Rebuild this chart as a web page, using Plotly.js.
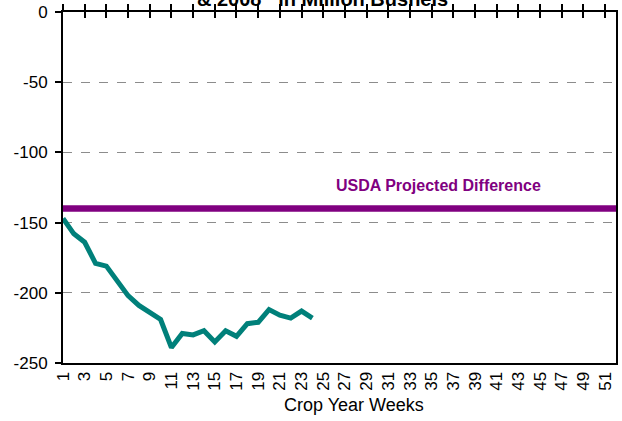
<!DOCTYPE html>
<html>
<head>
<meta charset="utf-8">
<script src="https://cdn.plot.ly/plotly-3.0.1.min.js"></script>
<style>html,body{margin:0;padding:0;background:#fff;}#chart{width:622px;height:421px;}</style>
</head>
<body>
<div id="chart"></div>
<script>
// Data
const weeks = [1,2,3,4,5,6,7,8,9,10,11,12,13,14,15,16,17,18,19,20,21,22,23,24];
const exportDiff = [-147,-158,-164,-179,-181,-191,-202,-209,-214,-219,-239,-229,-230,-227,-235,-227,-231,-222,-221,-212,-216,-218,-213,-218];
const usdaWeeks = [1, 52];
const usdaDiff = [-140, -140];
const xTickVals = [1,3,5,7,9,11,13,15,17,19,21,23,25,27,29,31,33,35,37,39,41,43,45,47,49,51];
const xTickText = xTickVals.map(String);
const yTickVals = [0,-50,-100,-150,-200,-250];
const yTickText = ["0","-50","-100","-150","-200","-250"];
const titleText = "& 2008&nbsp;&nbsp;&nbsp;in Million Bushels";
const usdaLabel = "USDA Projected Difference";
const xTitle = "Crop Year Weeks";

const FONT = "Liberation Sans, Arial, sans-serif";
const xRange = [1, 52];
const yRange = [-250, 0];

const traces = [
  {x: usdaWeeks, y: usdaDiff, type: 'scatter', mode: 'lines', xaxis: 'x', yaxis: 'y',
   line: {color: '#800080', width: 6.5}, showlegend: false},
  {x: weeks, y: exportDiff, type: 'scatter', mode: 'lines', xaxis: 'x', yaxis: 'y',
   line: {color: '#00807A', width: 5}, showlegend: false},
  // invisible helpers so the two top tick axes are drawn
  {x: xRange, y: yRange, type: 'scatter', mode: 'lines', xaxis: 'x2', yaxis: 'y',
   line: {color: 'rgba(0,0,0,0)', width: 0}, showlegend: false, hoverinfo: 'skip'},
  {x: xRange, y: yRange, type: 'scatter', mode: 'lines', xaxis: 'x3', yaxis: 'y',
   line: {color: 'rgba(0,0,0,0)', width: 0}, showlegend: false, hoverinfo: 'skip'}
];

const topAxis = (dir) => ({
  overlaying: 'x', anchor: 'y', side: 'top', range: xRange,
  tickmode: 'array', tickvals: xTickVals, showticklabels: false,
  ticks: dir, ticklen: 6, tickwidth: 2, tickcolor: '#000',
  showline: true, linewidth: 2, linecolor: '#000', showgrid: false, zeroline: false
});

const layout = {
  width: 622, height: 421,
  margin: {l: 63, r: 6, t: 11.5, b: 58},
  paper_bgcolor: '#fff', plot_bgcolor: '#fff',
  font: {family: FONT, color: '#000'},
  showlegend: false,
  xaxis: {
    range: xRange, tickmode: 'array', tickvals: xTickVals, ticktext: xTickText,
    tickangle: -90, ticks: '', showline: true, linewidth: 2, linecolor: '#000',
    showgrid: false, zeroline: false, tickfont: {size: 17, family: FONT, color: '#000'}
  },
  xaxis2: topAxis('outside'),
  xaxis3: topAxis('inside'),
  yaxis: {
    range: yRange, tickmode: 'array', tickvals: yTickVals, ticktext: yTickText,
    ticks: 'outside', ticklen: 6, tickwidth: 2, tickcolor: '#000',
    showline: true, linewidth: 2, linecolor: '#000', mirror: true,
    showgrid: true, gridcolor: '#8c8c8c', gridwidth: 1, griddash: 'dash',
    zeroline: false, tickfont: {size: 17, family: FONT, color: '#000'},
    ticklabelstandoff: 4
  },
  annotations: [
    {text: titleText, xref: 'paper', yref: 'paper', x: 0.47, y: 1.038,
     xanchor: 'center', yanchor: 'middle', showarrow: false,
     font: {size: 20, family: FONT, color: '#000', weight: 'bold'}},
    {text: '<b>' + usdaLabel + '</b>', xref: 'paper', yref: 'y', x: 0.679, y: -123.5,
     xanchor: 'center', yanchor: 'middle', showarrow: false,
     font: {size: 16, family: FONT, color: '#800080'}},
    {text: xTitle, xref: 'paper', yref: 'paper', x: 0.527, y: -0.1195,
     xanchor: 'center', yanchor: 'middle', showarrow: false,
     font: {size: 18, family: FONT, color: '#000'}}
  ]
};

Plotly.newPlot('chart', traces, layout, {displayModeBar: false, staticPlot: true});
</script>
</body>
</html>
